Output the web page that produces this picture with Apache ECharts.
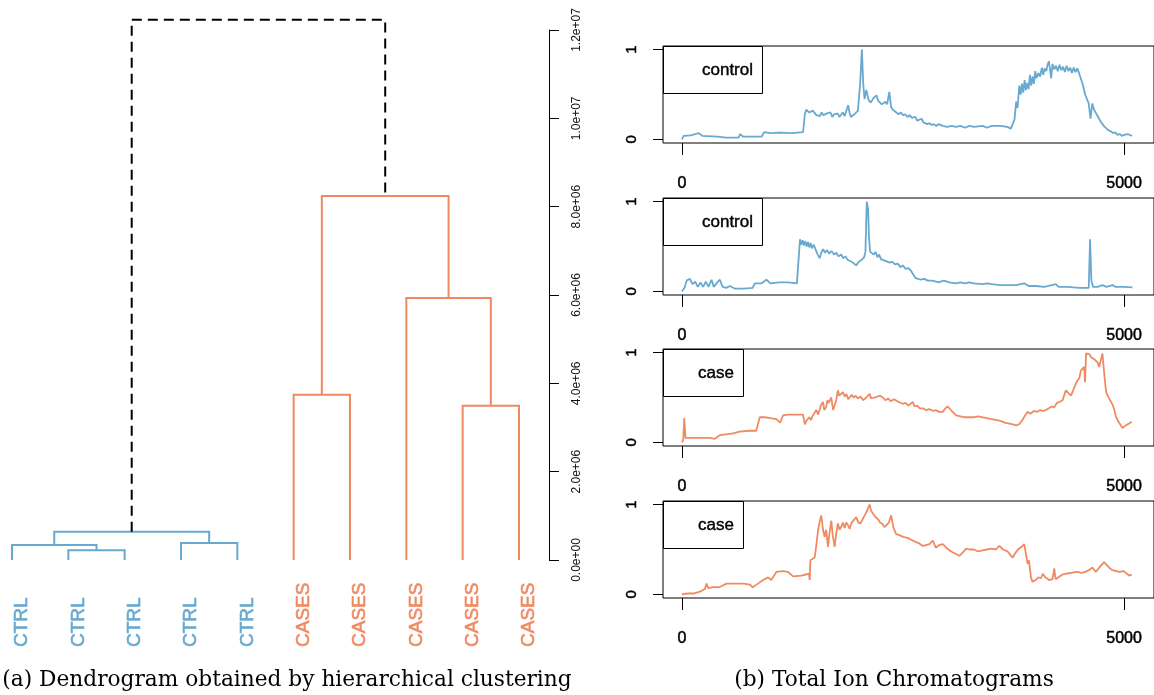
<!DOCTYPE html>
<html lang="en">
<head>
<meta charset="UTF-8">
<title>Dendrogram and TIC</title>
<style>
  html, body { margin: 0; padding: 0; background: #fff; }
  #chart { width: 1154px; height: 695px; }
</style>
</head>
<body>
<div id="chart"></div>
<script src="https://cdn.jsdelivr.net/npm/echarts@6.0.0/dist/echarts.min.js"></script>
<script>
// ---- dendrogram data ----
var leafLabels = ['CTRL', 'CTRL', 'CTRL', 'CTRL', 'CTRL', 'CASES', 'CASES', 'CASES', 'CASES', 'CASES'];
// R-style merge matrix: negative = leaf, positive = earlier merge
var mergePairs = [[-2, -3], [-1, 1], [-4, -5], [2, 3], [-9, -10], [-6, -7], [-8, 5], [6, 7], [4, 8]];
var mergeHeights = [0.22e6, 0.34e6, 0.385e6, 0.64e6, 3.49e6, 3.74e6, 5.93e6, 8.24e6, 12.23e6];
var heightTicks = [0, 2e6, 4e6, 6e6, 8e6, 10e6, 12e6];
var heightTickLabels = ['0.0e+00', '2.0e+06', '4.0e+06', '6.0e+06', '8.0e+06', '1.0e+07', '1.2e+07'];

// ---- chromatograms [scan, relative intensity] ----
var panelNames = ['control', 'control', 'case', 'case'];
var ctrlA = [[0,0],[20,0.04],[100,0.045],[190,0.07],[230,0.04],[400,0.03],[500,0.02],[640,0.02],[660,0.06],[690,0.03],[900,0.03],[930,0.08],[1000,0.07],[1100,0.075],[1250,0.07],[1370,0.08],
    [1390,0.28],[1405,0.33],[1420,0.34],[1440,0.3],[1460,0.29],[1480,0.32],[1500,0.3],[1520,0.27],[1540,0.29],[1560,0.26],[1580,0.3],[1600,0.27],[1620,0.25],[1640,0.29],[1660,0.27],[1680,0.3],[1700,0.25],[1720,0.28],[1740,0.26],[1760,0.29],[1780,0.25],[1800,0.27],[1820,0.3],[1840,0.26],[1860,0.28],[1880,0.38],[1895,0.3],[1910,0.25],[1930,0.23],[1950,0.28],[1970,0.26],[1990,0.32],
    [2015,0.62],[2035,1.0],[2050,0.62],[2065,0.45],[2085,0.55],[2110,0.44],[2135,0.41],[2165,0.46],[2200,0.49],[2220,0.43],[2240,0.41],[2260,0.39],[2280,0.37],[2300,0.42],[2320,0.39],[2345,0.53],[2365,0.36],[2385,0.33],[2400,0.31],[2425,0.3],[2450,0.28],[2475,0.3],[2500,0.27],[2525,0.28],[2550,0.25],[2575,0.27],[2600,0.24],[2620,0.26],[2640,0.25],[2660,0.21],[2680,0.2],[2710,0.23],[2730,0.19],[2750,0.2],[2775,0.17],[2800,0.18],[2825,0.16],[2850,0.17],[2875,0.15],[2900,0.17],[2950,0.15],[3000,0.14],[3050,0.15],[3100,0.14],[3150,0.15],[3200,0.13],[3250,0.15],[3300,0.14],[3400,0.15],[3450,0.13],[3500,0.15],[3600,0.15],[3680,0.14],[3720,0.12],
    [3760,0.22],[3780,0.42],[3795,0.35],[3815,0.6],[3830,0.5],[3845,0.62],[3860,0.52],[3875,0.66],[3890,0.55],[3905,0.63],[3920,0.56],[3935,0.72],[3950,0.6],[3965,0.7],[3980,0.62],[3995,0.76],[4010,0.68],[4030,0.74],[4050,0.7],[4070,0.8],[4085,0.72],[4100,0.79],[4120,0.76],[4135,0.83],[4150,0.87],[4165,0.76],[4175,0.68],[4190,0.84],[4210,0.78],[4230,0.82],[4250,0.76],[4270,0.83],[4290,0.77],[4310,0.81],[4330,0.75],[4350,0.82],[4370,0.76],[4390,0.8],[4410,0.74],[4430,0.8],[4450,0.75],[4470,0.79],[4490,0.74],[4510,0.76],[4530,0.62],
    [4560,0.5],[4580,0.45],[4600,0.4],[4620,0.23],[4640,0.4],[4660,0.33],[4680,0.31],[4700,0.26],[4720,0.24],[4740,0.19],[4760,0.18],[4780,0.14],[4800,0.13],[4825,0.1],[4850,0.09],[4875,0.07],[4900,0.08],[4925,0.05],[4950,0.06],[4975,0.04],[5000,0.05],[5040,0.06],[5090,0.04]];
var ctrlB = [[0,0],[30,0.04],[53,0.12],[90,0.14],[120,0.08],[150,0.11],[180,0.05],[210,0.1],[240,0.05],[270,0.11],[300,0.05],[335,0.13],[360,0.05],[400,0.1],[429,0.13],[460,0.05],[500,0.04],[542,0.06],[600,0.03],[700,0.03],[800,0.04],[824,0.09],[900,0.09],[956,0.13],[1000,0.09],[1100,0.1],[1200,0.1],[1300,0.09],[1320,0.1],
    [1335,0.58],[1350,0.52],[1365,0.57],[1380,0.51],[1395,0.56],[1410,0.5],[1425,0.55],[1440,0.49],[1455,0.54],[1470,0.48],[1490,0.52],[1510,0.47],[1530,0.42],[1557,0.37],[1580,0.44],[1595,0.47],[1620,0.43],[1640,0.46],[1665,0.42],[1690,0.45],[1720,0.41],[1746,0.43],[1770,0.39],[1800,0.41],[1825,0.37],[1850,0.39],[1875,0.35],[1896,0.37],[1920,0.33],[1940,0.34],[1971,0.29],[2000,0.33],[2030,0.35],[2060,0.38],[2075,0.44],
    [2090,1.0],[2105,0.92],[2115,0.6],[2129,0.44],[2150,0.45],[2170,0.41],[2190,0.44],[2210,0.38],[2230,0.41],[2250,0.36],[2272,0.38],[2300,0.34],[2320,0.36],[2350,0.32],[2380,0.33],[2410,0.3],[2440,0.31],[2470,0.27],[2498,0.29],[2530,0.25],[2560,0.26],[2590,0.23],[2611,0.25],[2640,0.15],[2670,0.14],[2700,0.13],[2740,0.14],[2780,0.12],[2830,0.12],[2874,0.11],[2900,0.1],[2960,0.12],[3025,0.1],[3100,0.09],[3150,0.1],[3200,0.09],[3250,0.1],[3300,0.09],[3401,0.08],[3450,0.09],[3500,0.08],[3600,0.07],[3700,0.07],[3777,0.07],[3871,0.09],[3920,0.06],[4000,0.06],[4100,0.05],[4228,0.08],[4260,0.05],[4350,0.05],[4500,0.04],[4600,0.04],[4615,0.58],[4630,0.12],[4650,0.05],[4700,0.05],[4755,0.07],[4800,0.05],[4870,0.07],[4905,0.05],[5000,0.05],[5094,0.045]];
var caseA = [[0,0],[15,0.03],[26,0.27],[40,0.05],[100,0.05],[200,0.05],[316,0.05],[370,0.04],[429,0.08],[500,0.09],[579,0.1],[650,0.12],[767,0.13],[840,0.13],[862,0.12],[880,0.28],[940,0.28],[1000,0.27],[1068,0.26],[1110,0.22],[1144,0.3],[1200,0.31],[1300,0.31],[1369,0.31],[1390,0.2],[1407,0.24],[1440,0.28],[1460,0.25],[1480,0.3],[1500,0.28],[1520,0.36],[1540,0.31],[1560,0.33],[1575,0.42],[1595,0.45],[1610,0.36],[1630,0.39],[1645,0.47],[1660,0.44],[1689,0.5],[1700,0.42],[1710,0.36],[1727,0.34],[1745,0.47],[1764,0.58],[1780,0.52],[1800,0.5],[1820,0.56],[1840,0.51],[1860,0.54],[1880,0.48],[1896,0.47],[1920,0.53],[1940,0.5],[1965,0.52],[1990,0.49],[2020,0.51],[2050,0.47],[2085,0.5],[2122,0.54],[2140,0.49],[2160,0.47],[2180,0.5],[2200,0.48],[2240,0.52],[2272,0.5],[2300,0.47],[2330,0.49],[2360,0.46],[2400,0.48],[2450,0.45],[2498,0.43],[2530,0.44],[2560,0.41],[2611,0.45],[2630,0.4],[2660,0.41],[2690,0.38],[2724,0.38],[2760,0.36],[2800,0.37],[2840,0.35],[2870,0.36],[2910,0.34],[2949,0.34],[2980,0.38],[3006,0.4],[3050,0.35],[3100,0.3],[3150,0.29],[3200,0.28],[3300,0.28],[3350,0.29],[3401,0.28],[3450,0.27],[3500,0.26],[3550,0.25],[3600,0.24],[3650,0.22],[3702,0.21],[3740,0.2],[3777,0.19],[3810,0.2],[3850,0.25],[3880,0.3],[3909,0.34],[3940,0.32],[3980,0.35],[4020,0.34],[4050,0.36],[4080,0.35],[4116,0.36],[4150,0.38],[4180,0.4],[4210,0.39],[4240,0.44],[4270,0.45],[4304,0.47],[4341,0.58],[4370,0.55],[4400,0.52],[4440,0.62],[4473,0.69],[4495,0.72],[4511,0.8],[4548,0.84],[4558,0.67],[4570,0.99],[4590,0.97],[4610,0.98],[4625,0.95],[4642,0.97],[4670,0.92],[4700,0.89],[4718,0.84],[4740,0.93],[4755,0.99],[4775,0.77],[4790,0.62],[4800,0.55],[4830,0.49],[4850,0.47],[4870,0.42],[4890,0.36],[4906,0.29],[4930,0.24],[4950,0.21],[4981,0.16],[5000,0.18],[5020,0.19],[5040,0.17],[5056,0.21],[5070,0.19],[5086,0.23]];
var caseB = [[0,0],[60,0.01],[128,0.01],[203,0.03],[260,0.06],[278,0.12],[300,0.07],[350,0.08],[420,0.08],[504,0.12],[600,0.12],[700,0.12],[767,0.11],[800,0.08],[860,0.12],[918,0.16],[974,0.19],[1010,0.16],[1068,0.25],[1144,0.26],[1200,0.25],[1257,0.2],[1350,0.21],[1437,0.23],[1445,0.16],[1452,0.38],[1501,0.41],[1520,0.55],[1539,0.71],[1555,0.8],[1576,0.88],[1595,0.72],[1614,0.64],[1630,0.72],[1652,0.53],[1670,0.7],[1689,0.82],[1705,0.66],[1727,0.53],[1745,0.68],[1764,0.79],[1782,0.72],[1800,0.75],[1820,0.8],[1840,0.74],[1858,0.8],[1880,0.77],[1896,0.73],[1920,0.8],[1940,0.78],[1971,0.86],[1995,0.8],[2020,0.79],[2050,0.85],[2084,0.91],[2100,0.95],[2122,1.0],[2140,0.93],[2160,0.9],[2190,0.86],[2216,0.84],[2240,0.8],[2270,0.78],[2290,0.75],[2310,0.73],[2340,0.8],[2366,0.88],[2390,0.75],[2423,0.67],[2460,0.66],[2500,0.64],[2550,0.63],[2611,0.6],[2650,0.58],[2680,0.57],[2724,0.54],[2760,0.55],[2800,0.56],[2837,0.6],[2870,0.52],[2910,0.55],[2949,0.56],[2990,0.52],[3025,0.49],[3060,0.47],[3100,0.45],[3137,0.43],[3180,0.47],[3213,0.51],[3250,0.5],[3300,0.5],[3350,0.48],[3400,0.49],[3450,0.5],[3500,0.51],[3550,0.5],[3589,0.54],[3630,0.5],[3680,0.48],[3739,0.41],[3770,0.46],[3800,0.5],[3840,0.53],[3871,0.56],[3890,0.45],[3909,0.34],[3925,0.38],[3946,0.19],[3965,0.14],[4000,0.16],[4030,0.19],[4060,0.18],[4080,0.23],[4110,0.19],[4153,0.16],[4190,0.17],[4210,0.29],[4225,0.17],[4270,0.2],[4300,0.22],[4341,0.23],[4400,0.24],[4470,0.25],[4520,0.24],[4560,0.25],[4600,0.27],[4642,0.3],[4680,0.25],[4720,0.3],[4774,0.36],[4810,0.32],[4840,0.29],[4868,0.27],[4910,0.26],[4950,0.25],[4990,0.26],[5020,0.24],[5056,0.21],[5086,0.22]];
var panelData = [ctrlA, ctrlB, caseA, caseB];
var scanTicks = [0, 5000];
var intensityTicks = [0, 1];

var BLUE = '#67a9cf', ORANGE = '#ef8a62';
var groupColor = { CTRL: BLUE, CASES: ORANGE, control: BLUE, 'case': ORANGE };
var SANS = "'Liberation Sans', Arial, sans-serif";
var SERIF = "'DejaVu Serif', 'Liberation Serif', serif";

// build dendrogram segments from merge matrix
var nodes = [];
var dendroRows = [];
var dendroGroups = [];
function childOf(id) {
    if (id < 0) return { x: -id, h: 0, group: leafLabels[-id - 1] };
    return nodes[id - 1];
}
mergePairs.forEach(function (p, i) {
    var a = childOf(p[0]), b = childOf(p[1]);
    var g = a.group === b.group ? a.group : 'mixed';
    nodes.push({ x: (a.x + b.x) / 2, h: mergeHeights[i], group: g });
    dendroRows.push([a.x, a.h, b.x, b.h, mergeHeights[i]]);
    dendroGroups.push(g);
});

var chart = echarts.init(document.getElementById('chart'));

// panel layout
var panelTops = [46, 198, 349, 501];
var panelH = 97, panelLeft = 663, panelW = 492;

var grids = [{ left: 12, top: 30, width: 507, height: 530 }];
var xAxes = [{ gridIndex: 0, type: 'value', min: 1, max: 10, show: false }];
var yAxes = [{
    gridIndex: 0, type: 'value', position: 'right', offset: 30,
    min: 0, max: 12e6, interval: 2e6,
    axisLine: { show: true, onZero: false, lineStyle: { color: '#000', width: 1 } },
    axisTick: { show: true, inside: false, length: 10, lineStyle: { color: '#000' } },
    axisLabel: {
        rotate: 90, margin: 22, fontSize: 12, color: '#111', fontFamily: SANS,
        formatter: function (v) {
            var k = heightTicks.indexOf(v);
            return k >= 0 ? heightTickLabels[k] : '';
        }
    },
    splitLine: { show: false }
}];

var series = [{
    type: 'custom',
    xAxisIndex: 0, yAxisIndex: 0,
    clip: false,
    silent: true,
    data: dendroRows,
    renderItem: function (params, api) {
        var pa = api.coord([api.value(0), api.value(1)]);
        var pb = api.coord([api.value(2), api.value(3)]);
        var top = api.coord([api.value(0), api.value(4)])[1];
        var g = dendroGroups[params.dataIndex];
        return {
            type: 'polyline',
            shape: { points: [[pa[0], pa[1]], [pa[0], top], [pb[0], top], [pb[0], pb[1]]] },
            style: {
                fill: null,
                stroke: g === 'mixed' ? '#000' : groupColor[g],
                lineWidth: 2,
                lineDash: g === 'mixed' ? [10, 6] : null
            }
        };
    }
}, {
    type: 'custom',
    xAxisIndex: 0, yAxisIndex: 0,
    clip: false,
    silent: true,
    data: leafLabels.map(function (l, i) { return [i + 1, 0]; }),
    renderItem: function (params, api) {
        var pt = api.coord([api.value(0), 0]);
        var lab = leafLabels[params.dataIndex];
        return {
            type: 'text',
            x: pt[0] + 10,
            y: pt[1] + 87,
            rotation: Math.PI / 2,
            style: {
                text: lab,
                fill: groupColor[lab],
                stroke: groupColor[lab],
                lineWidth: 0.6,
                font: '19px ' + SANS,
                align: 'left',
                verticalAlign: 'middle'
            }
        };
    }
}];

var graphics = [];

panelTops.forEach(function (t, i) {
    var gi = i + 1;
    grids.push({
        left: panelLeft, top: t, width: panelW, height: panelH,
        show: true, borderColor: '#000', borderWidth: 1, backgroundColor: 'transparent'
    });
    xAxes.push({
        gridIndex: gi, type: 'value', min: -214, max: 5338,
        axisLine: { show: false, onZero: false },
        axisTick: { show: true, inside: false, length: 12, customValues: scanTicks, lineStyle: { color: '#000' } },
        axisLabel: {
            customValues: scanTicks, margin: 33, fontSize: 16, color: '#000', fontFamily: SANS,
            textBorderColor: '#000', textBorderWidth: 0.5,
            formatter: function (v) { return String(v); }
        },
        splitLine: { show: false }
    });
    yAxes.push({
        gridIndex: gi, type: 'value', min: -0.04, max: 1.04,
        axisLine: { show: false, onZero: false },
        axisTick: { show: true, inside: false, length: 10, customValues: intensityTicks, lineStyle: { color: '#000' } },
        axisLabel: {
            customValues: intensityTicks, rotate: 90, margin: 24, fontSize: 15, color: '#000', fontFamily: SANS,
            textBorderColor: '#000', textBorderWidth: 0.5,
            formatter: function (v) { return String(v); }
        },
        splitLine: { show: false }
    });
    var col = groupColor[panelNames[i]];
    series.push({
        type: 'line',
        xAxisIndex: gi, yAxisIndex: gi,
        data: panelData[i],
        showSymbol: false,
        silent: true,
        lineStyle: { color: col, width: 1.8 },
        itemStyle: { color: col }
    });
    // legend box in the top-left corner of each panel
    var isCtrl = panelNames[i] === 'control';
    var boxW = isCtrl ? 99 : 80;
    graphics.push({
        type: 'rect', left: panelLeft, top: t,
        shape: { width: boxW, height: 47 },
        style: { fill: '#fff', stroke: '#000', lineWidth: 1 }
    });
    graphics.push({
        type: 'text', x: panelLeft + boxW - 9, y: t + 24,
        style: {
            text: panelNames[i], font: '17px ' + SANS, fill: '#000', stroke: '#000', lineWidth: 0.4,
            align: 'right', verticalAlign: 'middle'
        }
    });
});

graphics.push({
    type: 'text', x: 287, y: 680,
    style: { text: '(a) Dendrogram obtained by hierarchical clustering', font: '21.7px ' + SERIF, fill: '#000', align: 'center', verticalAlign: 'middle' }
});
graphics.push({
    type: 'text', x: 894, y: 680,
    style: { text: '(b) Total Ion Chromatograms', font: '21.7px ' + SERIF, fill: '#000', align: 'center', verticalAlign: 'middle' }
});

var option = {
    animation: false,
    backgroundColor: '#fff',
    grid: grids,
    xAxis: xAxes,
    yAxis: yAxes,
    series: series,
    graphic: graphics
};

chart.setOption(option, true);
</script>
</body>
</html>
